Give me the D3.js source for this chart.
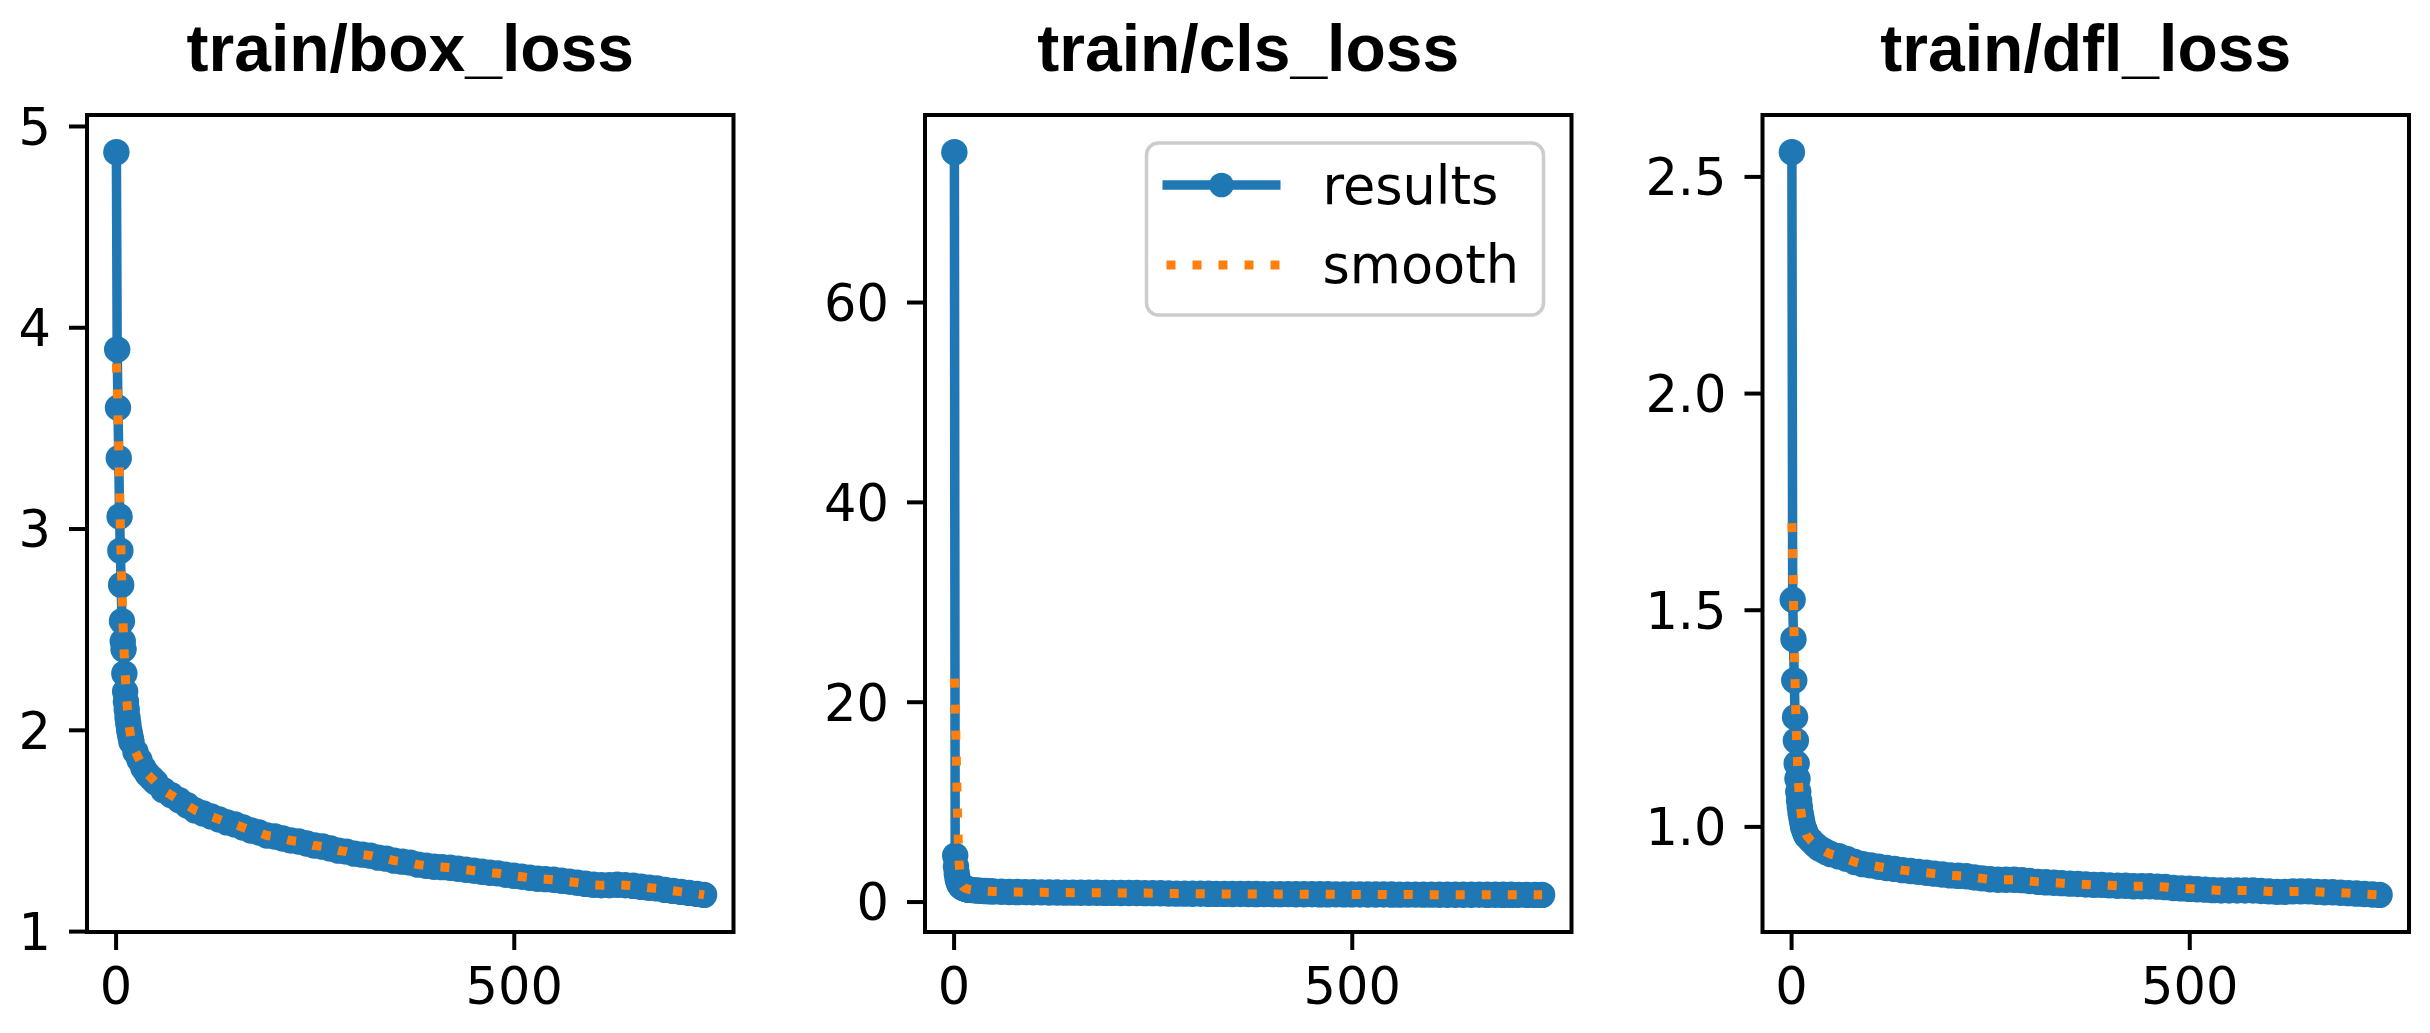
<!DOCTYPE html>
<html><head><meta charset="utf-8">
<script src="https://cdn.jsdelivr.net/npm/d3@7/dist/d3.min.js"></script>
<style>body{margin:0;background:#fff}</style>
</head><body>
<svg id="chart" width="2430" height="1033"></svg>
<script>
const epochs = [1,2,3,4,5,6,7,8,9,10,11,12,13,14,15,16,17,18,19,20,25,30,35,40,45,50,60,70,80,90,100,110,120,130,140,150,160,170,180,190,200,210,220,230,240,250,260,270,280,290,300,310,320,330,340,350,360,370,380,390,400,410,420,430,440,450,460,470,480,490,500,510,520,530,540,550,560,570,580,590,600,610,620,630,640,650,660,670,680,690,700,710,720,730,739];

const boxLoss = [4.87,3.89,3.60,3.35,3.06,2.89,2.72,2.54,2.44,2.40,2.28,2.19,2.14,2.10,2.06,2.03,2.00,1.98,1.96,1.94,
1.89,1.85,1.81,1.78,1.76,1.74,
1.70,1.675,1.65,1.625,1.60,1.585,1.57,1.555,1.54,1.53,
1.515,1.50,1.49,1.475,1.47,1.46,1.45,1.445,1.435,1.425,
1.42,1.41,1.40,1.395,1.385,1.38,1.375,1.365,1.36,1.35,
1.345,1.34,1.33,1.325,1.32,1.318,1.315,1.31,1.305,1.30,
1.295,1.29,1.287,1.28,1.275,1.27,1.265,1.26,1.258,1.255,
1.25,1.245,1.24,1.235,1.23,1.228,1.228,1.23,1.228,1.225,
1.22,1.215,1.212,1.205,1.20,1.195,1.19,1.185,
1.18];
const boxSmooth = [3.82,3.72,3.56,3.38,3.19,3.01,2.85,2.70,2.57,2.46,2.36,2.28,2.21,2.15,2.10,2.06,2.02,1.99,1.965,1.945,
1.89,1.85,1.81,1.78,1.76,1.74,
1.70,1.675,1.65,1.625,1.60,1.585,1.57,1.555,1.54,1.53,
1.515,1.50,1.49,1.475,1.47,1.46,1.45,1.445,1.435,1.425,
1.42,1.41,1.40,1.395,1.385,1.38,1.375,1.365,1.36,1.35,
1.345,1.34,1.33,1.325,1.32,1.318,1.315,1.31,1.305,1.30,
1.295,1.29,1.287,1.28,1.275,1.27,1.265,1.26,1.258,1.255,
1.25,1.245,1.24,1.235,1.23,1.228,1.228,1.23,1.228,1.225,
1.22,1.215,1.212,1.205,1.20,1.195,1.19,1.185,
1.18];

const clsLoss = [75.0,4.6,3.5,2.8,2.3,2.0,1.8,1.65,1.55,1.48,1.42,1.38,1.34,1.31,1.28,1.26,1.24,1.22,1.20,1.19,
1.14,1.10,1.07,1.05,1.03,1.01,
0.98,0.96,0.95,0.94,0.93,0.92,0.91,0.90,0.895,0.89,
0.885,0.88,0.875,0.87,0.865,0.86,0.855,0.85,0.845,0.84,
0.835,0.80,0.795,0.79,0.785,0.78,0.775,0.77,0.765,0.76,
0.757,0.754,0.751,0.748,0.745,0.742,0.739,0.736,0.733,0.73,
0.727,0.724,0.721,0.718,0.715,0.712,0.709,0.706,0.703,0.70,
0.698,0.696,0.694,0.692,0.69,0.688,0.686,0.684,0.682,0.68,
0.678,0.677,0.676,0.675,0.674,0.673,0.672,0.671,
0.67];
const clsSmooth = [22.3,19.8,16.0,12.1,8.5,5.7,3.8,2.7,2.1,1.8,1.62,1.5,1.42,1.37,1.33,1.29,1.26,1.24,1.22,1.20,
1.14,1.10,1.07,1.05,1.03,1.01,
0.98,0.96,0.95,0.94,0.93,0.92,0.91,0.90,0.895,0.89,
0.885,0.88,0.875,0.87,0.865,0.86,0.855,0.85,0.845,0.84,
0.835,0.80,0.795,0.79,0.785,0.78,0.775,0.77,0.765,0.76,
0.757,0.754,0.751,0.748,0.745,0.742,0.739,0.736,0.733,0.73,
0.727,0.724,0.721,0.718,0.715,0.712,0.709,0.706,0.703,0.70,
0.698,0.696,0.694,0.692,0.69,0.688,0.686,0.684,0.682,0.68,
0.678,0.677,0.676,0.675,0.674,0.673,0.672,0.671,
0.67];

const dflLoss = [2.556,1.523,1.432,1.337,1.252,1.198,1.145,1.11,1.08,1.06,1.045,1.03,1.02,1.01,1.0,0.995,0.99,0.985,0.98,0.977,
0.967,0.958,0.95,0.945,0.94,0.936,
0.931,0.925,0.918,0.913,0.91,0.907,0.904,0.902,0.899,0.897,
0.895,0.893,0.891,0.889,0.887,0.886,0.885,0.882,0.88,0.878,
0.877,0.877,0.877,0.876,0.874,0.872,0.871,0.87,0.869,0.868,
0.867,0.866,0.865,0.865,0.864,0.863,0.863,0.862,0.862,0.862,
0.861,0.86,0.858,0.857,0.856,0.855,0.854,0.853,0.852,0.852,
0.852,0.852,0.852,0.851,0.85,0.849,0.849,0.85,0.85,0.85,
0.849,0.848,0.848,0.847,0.846,0.845,0.844,0.843,
0.842];
const dflSmooth = [1.70,1.63,1.52,1.42,1.33,1.26,1.20,1.15,1.11,1.08,1.058,1.04,1.026,1.014,1.004,0.997,0.991,0.986,0.981,0.978,
0.967,0.958,0.95,0.945,0.94,0.936,
0.931,0.925,0.918,0.913,0.91,0.907,0.904,0.902,0.899,0.897,
0.895,0.893,0.891,0.889,0.887,0.886,0.885,0.882,0.88,0.878,
0.877,0.877,0.877,0.876,0.874,0.872,0.871,0.87,0.869,0.868,
0.867,0.866,0.865,0.865,0.864,0.863,0.863,0.862,0.862,0.862,
0.861,0.86,0.858,0.857,0.856,0.855,0.854,0.853,0.852,0.852,
0.852,0.852,0.852,0.851,0.85,0.849,0.849,0.85,0.85,0.85,
0.849,0.848,0.848,0.847,0.846,0.845,0.844,0.843,
0.842];

const titles = ["train/box_loss", "train/cls_loss", "train/dfl_loss"];
const xTickValues = [0, 500];
const boxTicks = [1, 2, 3, 4, 5];
const clsTicks = [0, 20, 40, 60];
const dflTicks = [1.0, 1.5, 2.0, 2.5];
const legendLabels = ["results", "smooth"];

const svg = d3.select("#chart");
const blue = "#1f77b4", orange = "#ff7f0e";
const W = 646.5, TOP = 115, BOTTOM = 932;
const tickFont = "'DejaVu Sans', sans-serif";
const MR = 13.2;

const panels = [
  {title: titles[0], raw: boxLoss, smooth: boxSmooth, ticks: boxTicks, fmt: d3.format("d"), left: 87, legend: false},
  {title: titles[1], raw: clsLoss, smooth: clsSmooth, ticks: clsTicks, fmt: d3.format("d"), left: 925, legend: true},
  {title: titles[2], raw: dflLoss, smooth: dflSmooth, ticks: dflTicks, fmt: d3.format(".1f"), left: 1762.5, legend: false}
];

function padded(ext) { const r = ext[1] - ext[0]; return [ext[0] - 0.05 * r, ext[1] + 0.05 * r]; }

panels.forEach((p, i) => {
  const x = d3.scaleLinear().domain(padded(d3.extent(epochs))).range([p.left, p.left + W]);
  const y = d3.scaleLinear().domain(padded(d3.extent(p.raw.concat(p.smooth)))).range([BOTTOM, TOP]);
  const g = svg.append("g");

  const clipId = "clip" + i;
  svg.append("clipPath").attr("id", clipId).append("rect")
    .attr("x", p.left).attr("y", TOP).attr("width", W).attr("height", BOTTOM - TOP);

  const rawData = epochs.map((e, j) => [e, p.raw[j]]);
  const smData = epochs.map((e, j) => [e, p.smooth[j]]);
  const line = d3.line().x(d => x(d[0])).y(d => y(d[1]));

  const plot = g.append("g").attr("clip-path", `url(#${clipId})`);
  plot.append("path").datum(rawData).attr("d", line)
    .attr("fill", "none").attr("stroke", blue).attr("stroke-width", 9.5)
    .attr("stroke-linejoin", "round").attr("stroke-linecap", "round");
  plot.selectAll("circle").data(rawData).join("circle")
    .attr("cx", d => x(d[0])).attr("cy", d => y(d[1])).attr("r", MR).attr("fill", blue);
  plot.append("path").datum(smData).attr("d", line)
    .attr("fill", "none").attr("stroke", orange).attr("stroke-width", 9)
    .attr("stroke-dasharray", "9 17");

  const xAxis = d3.axisBottom(x).tickValues(xTickValues).tickSize(18).tickPadding(18).tickFormat(d3.format("d"));
  const gx = g.append("g").attr("transform", `translate(0,${BOTTOM})`).call(xAxis);
  const yAxis = d3.axisLeft(y).tickValues(p.ticks).tickSize(18).tickPadding(18).tickFormat(p.fmt);
  const gy = g.append("g").attr("transform", `translate(${p.left},0)`).call(yAxis);
  [gx, gy].forEach(a => {
    a.select(".domain").remove();
    a.selectAll(".tick line").attr("stroke", "#000").attr("stroke-width", 4);
    a.selectAll(".tick text").attr("fill", "#000").attr("font-family", tickFont).attr("font-size", 51);
  });
  gy.selectAll(".tick text").attr("dy", "0.36em");

  g.append("rect").attr("x", p.left).attr("y", TOP).attr("width", W).attr("height", BOTTOM - TOP)
    .attr("fill", "none").attr("stroke", "#000").attr("stroke-width", 4);

  g.append("text").attr("x", p.left + W / 2).attr("y", 71).attr("text-anchor", "middle")
    .attr("font-family", "'Liberation Sans', Arial, sans-serif").attr("font-weight", "bold")
    .attr("font-size", 66).attr("fill", "#000").text(p.title);

  if (p.legend) {
    const lx = p.left + W - 425, ly = TOP + 28;
    const lg = g.append("g");
    lg.append("rect").attr("x", lx).attr("y", ly).attr("width", 397).attr("height", 172).attr("rx", 12)
      .attr("fill", "#fff").attr("fill-opacity", 0.8).attr("stroke", "#cccccc").attr("stroke-width", 3.5);
    lg.append("line").attr("x1", lx + 16).attr("x2", lx + 134).attr("y1", ly + 42).attr("y2", ly + 42)
      .attr("stroke", blue).attr("stroke-width", 9.5);
    lg.append("circle").attr("cx", lx + 75).attr("cy", ly + 42).attr("r", 12.3).attr("fill", blue);
    lg.append("line").attr("x1", lx + 16).attr("x2", lx + 134).attr("y1", ly + 122).attr("y2", ly + 122)
      .attr("stroke", orange).attr("stroke-width", 9).attr("stroke-dasharray", "9 17").attr("stroke-dashoffset", -4);
    lg.append("text").attr("x", lx + 176).attr("y", ly + 61).attr("font-family", tickFont).attr("font-size", 52.5)
      .attr("fill", "#000").text(legendLabels[0]);
    lg.append("text").attr("x", lx + 176).attr("y", ly + 140).attr("font-family", tickFont).attr("font-size", 52.5)
      .attr("fill", "#000").text(legendLabels[1]);
  }
});
</script>
</body></html>
